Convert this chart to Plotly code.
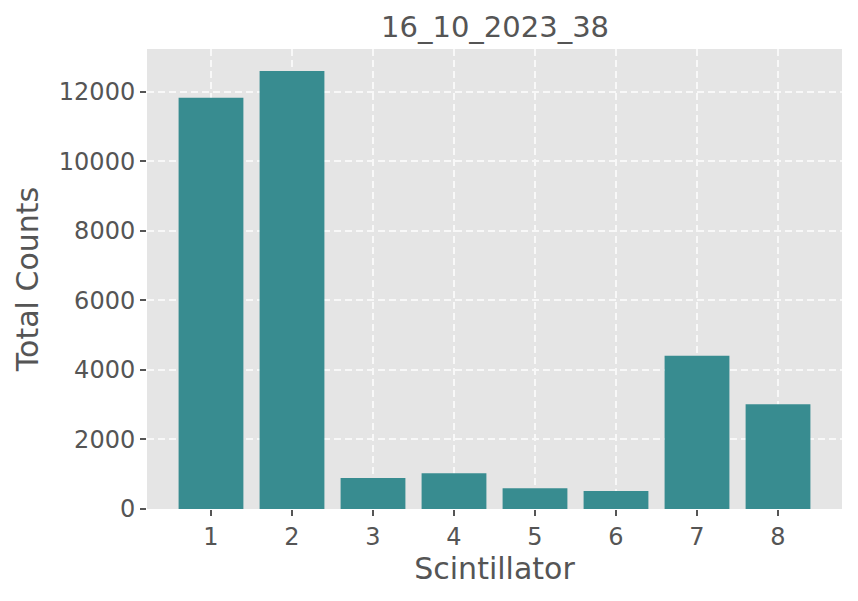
import plotly.graph_objects as go

scintillators = [1, 2, 3, 4, 5, 6, 7, 8]
total_counts = [11830, 12600, 890, 1030, 600, 520, 4410, 3010]
y_ticks = [0, 2000, 4000, 6000, 8000, 10000, 12000]

fig = go.Figure(
    go.Bar(
        x=scintillators,
        y=total_counts,
        width=0.8,
        marker_color="#388c90",
        marker_line_width=0,
    )
)

grid = dict(showgrid=True, gridcolor="#f8f8f8", griddash="7px,4px", gridwidth=1.6, zeroline=False, automargin=False)
tick = dict(ticks="outside", ticklen=6, tickwidth=1.6, tickcolor="#555555",
            tickfont=dict(size=24, color="#555555"), showline=False)

fig.update_xaxes(range=[0.21, 8.79], tickvals=scintillators,
                 title=dict(text="Scintillator", font=dict(size=30, color="#555555"), standoff=8), **grid, **tick)
fig.update_yaxes(range=[0, 13230], tickvals=y_ticks, ticktext=[str(v) for v in y_ticks],
                 title=dict(text="Total Counts", font=dict(size=30, color="#555555"), standoff=11), **grid, **tick)

# page body has an 8px margin, so the figure is shrunk and margins shifted
fig.update_layout(
    width=850,
    height=593,
    margin=dict(l=139, r=16, t=41, b=92),
    plot_bgcolor="#e5e5e5",
    paper_bgcolor="white",
    font=dict(family="DejaVu Sans", color="#555555"),
    title=dict(text="16_10_2023_38", x=0.573, xanchor="center", y=0.968, yanchor="middle",
               font=dict(size=29, color="#555555")),
    showlegend=False,
)

fig.write_html("out.html")
